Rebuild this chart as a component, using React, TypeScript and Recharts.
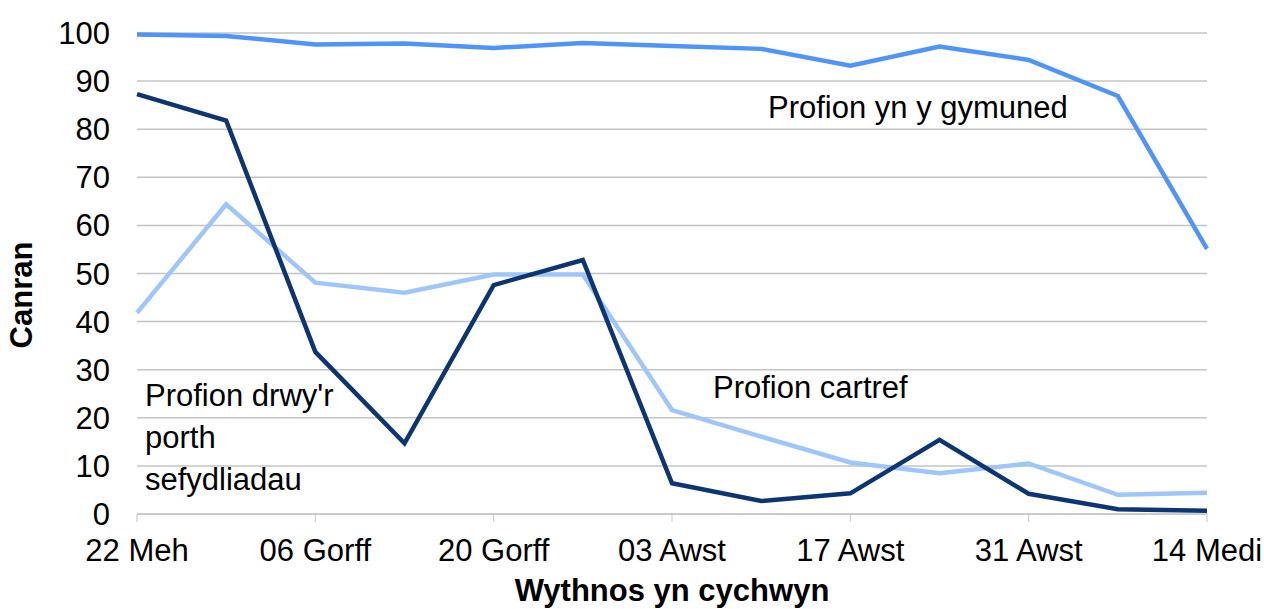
import {
    LineChart,
    Line,
    XAxis,
    YAxis,
    CartesianGrid,
    Customized,
} from 'recharts';

const weeks = [
    '22 Meh', '29 Meh', '06 Gorff', '13 Gorff', '20 Gorff', '27 Gorff', '03 Awst',
    '10 Awst', '17 Awst', '24 Awst', '31 Awst', '07 Medi', '14 Medi',
];

// Profion yn y gymuned
const community = [99.7, 99.4, 97.6, 97.8, 96.9, 97.9, 97.3, 96.7, 93.2, 97.2, 94.4, 86.9, 55.1];
// Profion drwy'r porth sefydliadau
const institutions = [87.3, 81.8, 33.7, 14.7, 47.6, 52.8, 6.4, 2.7, 4.3, 15.4, 4.2, 1.0, 0.7];
// Profion cartref
const home = [41.8, 64.4, 48.1, 46.0, 49.8, 49.8, 21.6, 16.1, 10.7, 8.5, 10.5, 4.0, 4.4];

const yTicks = [0, 10, 20, 30, 40, 50, 60, 70, 80, 90, 100];

const data = weeks.map((week, i) => ({
    week,
    community: community[i],
    institutions: institutions[i],
    home: home[i],
}));

const FONT = '"Liberation Sans", Arial, sans-serif';
const GRID = '#c4c4c4';

const Annotations = () => (
    <g fontFamily={FONT} fontSize={31} fill='#000'>
        <text x={768} y={118}>Profion yn y gymuned</text>
        <text x={713} y={398}>Profion cartref</text>
        <text x={145} y={406}>Profion drwy'r</text>
        <text x={145} y={448}>porth</text>
        <text x={145} y={490}>sefydliadau</text>
        <text x={672} y={601} textAnchor='middle' fontWeight='bold'>
            Wythnos yn cychwyn
        </text>
        <text
            x={0}
            y={0}
            transform='translate(32 295) rotate(-90)'
            textAnchor='middle'
            fontWeight='bold'
        >
            Canran
        </text>
    </g>
);

const App = () => {
    return (
        <>
            <style>{'body{margin:0}'}</style>
            <LineChart
                width={1264}
                height={609}
                data={data}
                margin={{ top: 33, right: 57, left: 0, bottom: 0 }}
                style={{ fontFamily: FONT }}
            >
                <CartesianGrid vertical={false} stroke={GRID} strokeWidth={1.5} />
                <XAxis
                    dataKey='week'
                    interval={1}
                    height={95}
                    stroke={GRID}
                    tickSize={8}
                    tickMargin={17}
                    tick={{ fill: '#000', fontSize: 31 }}
                />
                <YAxis
                    domain={[0, 100]}
                    ticks={yTicks}
                    width={137}
                    axisLine={false}
                    tickLine={false}
                    tickSize={0}
                    tickMargin={27}
                    tick={{ fill: '#000', fontSize: 31 }}
                />
                <Line
                    dataKey='community'
                    stroke='#4f94f8'
                    strokeWidth={4.5}
                    dot={false}
                    isAnimationActive={false}
                />
                <Line
                    dataKey='home'
                    stroke='#9ec6fa'
                    strokeWidth={4.5}
                    dot={false}
                    isAnimationActive={false}
                />
                <Line
                    dataKey='institutions'
                    stroke='#0d3571'
                    strokeWidth={4.5}
                    dot={false}
                    isAnimationActive={false}
                />
                <Customized component={Annotations} />
            </LineChart>
        </>
    );
};

export default App;
